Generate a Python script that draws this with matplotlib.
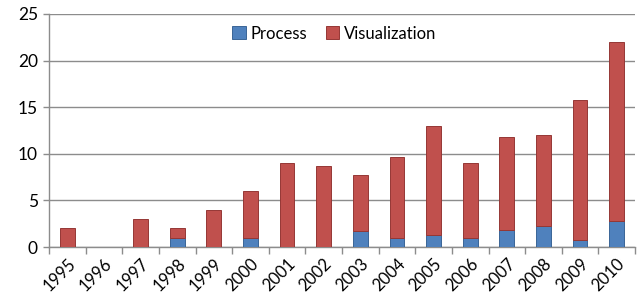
import numpy as np
import matplotlib.pyplot as plt

# --- Data ---
years = [str(y) for y in range(1995, 2011)]
total = [2, 0, 3, 2, 4, 6, 9, 8.7, 7.7, 9.7, 13.0, 9.0, 11.8, 12.0, 15.8, 22.0]
process = [0, 0, 0, 1, 0, 1, 0, 0, 1.7, 1.0, 1.3, 1.0, 1.8, 2.25, 0.8, 2.75]
visualization = [t - p for t, p in zip(total, process)]

blue = "#4F81BD"
red = "#C0504D"

plt.rcParams["font.family"] = ["Lato", "DejaVu Sans"]

fig = plt.figure(figsize=(6.42, 3.02), dpi=100)
ax = fig.add_axes([49 / 642, 55 / 302, 586 / 642, 233 / 302])

x = np.arange(len(years))
w = 0.4
ax.bar(x, process, w, color=blue, edgecolor="#3A6596", linewidth=0.7,
       label="Process", zorder=3)
ax.bar(x, visualization, w, bottom=process, color=red, edgecolor="#953735",
       linewidth=0.7, label="Visualization", zorder=3)

ax.set_xlim(-0.5, len(years) - 0.5)
ax.set_ylim(0, 25)
ax.set_yticks(range(0, 26, 5))
ax.yaxis.grid(True, color="#8C8C8C", linewidth=1.0, zorder=0)
ax.set_axisbelow(True)

# category labels at centres, tick marks between categories
ax.set_xticks(x)
ax.set_xticklabels(years, rotation=45, ha="right", va="top",
                   rotation_mode="anchor", fontsize=12)
ax.tick_params(axis="x", which="major", length=0, pad=6)
ax.set_xticks(np.arange(-0.5, len(years)), minor=True)
ax.tick_params(axis="x", which="minor", length=5, color="#8C8C8C", width=1.0)
ax.tick_params(axis="y", length=4, color="#8C8C8C", width=1.0,
               labelsize=12.5, pad=4)

for s in ["top", "right"]:
    ax.spines[s].set_visible(False)
for s in ["left", "bottom"]:
    ax.spines[s].set_color("#8C8C8C")
    ax.spines[s].set_linewidth(1.0)

ax.legend(loc="upper center", ncol=2, frameon=False, fontsize=12,
          bbox_to_anchor=(0.487, 1.015), handlelength=0.8, handleheight=0.8,
          handletextpad=0.3, columnspacing=1.1)

fig.savefig("out.png", dpi=100)
